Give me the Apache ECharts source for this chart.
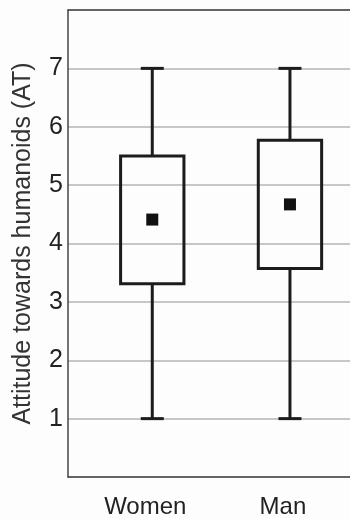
<!DOCTYPE html>
<html>
<head>
<meta charset="utf-8">
<style>
  html, body { margin: 0; padding: 0; background: #fdfdfd; }
  #chart { width: 350px; height: 519px; }
</style>
<script src="https://cdn.jsdelivr.net/npm/echarts@6/dist/echarts.min.js"></script>
</head>
<body>
<div id="chart"></div>
<script>
// Data
const categories = ['Women', 'Man'];
const categoryPos = [1, 2];
const whiskerLow = [1, 1];
const boxLow = [3.31, 3.57];
const boxHigh = [5.50, 5.77];
const whiskerHigh = [7, 7];
const means = [4.41, 4.67];
const yTicks = [1, 2, 3, 4, 5, 6, 7];

const boxData = categoryPos.map((x, i) => [x, whiskerLow[i], boxLow[i], boxHigh[i], whiskerHigh[i]]);
const meanData = categoryPos.map((x, i) => [x, means[i]]);

const chart = echarts.init(document.getElementById('chart'), null, { renderer: 'canvas' });
const ink = '#1c1c1c';
const xMin = 0.388, xMax = 2.436;
const option = {
  backgroundColor: '#fdfdfd',
  animation: false,
  grid: { left: 68, top: 10, right: 0, bottom: 42 },
  xAxis: [{
    type: 'value', min: xMin, max: xMax,
    axisLine: { show: true, onZero: false, lineStyle: { color: '#444', width: 1.5 } },
    axisTick: { show: false },
    splitLine: { show: false },
    axisLabel: {
      customValues: categoryPos,
      formatter: v => categories[categoryPos.indexOf(Math.round(v))] || '',
      fontFamily: 'Liberation Sans', fontSize: 24, color: '#222',
      margin: 18, padding: [0, 14, 0, 0]
    }
  }, {
    type: 'value', min: xMin, max: xMax, position: 'top',
    axisLine: { show: true, onZero: false, lineStyle: { color: '#444', width: 1.5 } },
    axisTick: { show: false }, axisLabel: { show: false }, splitLine: { show: false }
  }],
  yAxis: {
    type: 'value', min: 0, max: 8, interval: 1,
    name: 'Attitude towards humanoids (AT)',
    nameLocation: 'middle', nameGap: 32, nameRotate: 90,
    nameTextStyle: { fontFamily: 'Liberation Sans', fontSize: 25, color: '#333' },
    axisLine: { show: true, lineStyle: { color: '#444', width: 1.5 } },
    axisTick: { show: false },
    axisLabel: {
      fontFamily: 'Liberation Sans', fontSize: 25, color: '#222', margin: 5,
      padding: [5, 0, 0, 0],
      formatter: v => yTicks.indexOf(v) >= 0 ? String(v) : ''
    },
    splitLine: { show: true, lineStyle: { color: '#b4b4b4', width: 1.5 } }
  },
  series: [{
    type: 'custom',
    data: boxData,
    encode: { x: 0, y: [1, 2, 3, 4] },
    renderItem: (params, api) => {
      const x = api.value(0);
      const pLo = api.coord([x, api.value(1)]);
      const pQ1 = api.coord([x, api.value(2)]);
      const pQ3 = api.coord([x, api.value(3)]);
      const pHi = api.coord([x, api.value(4)]);
      const boxW = api.size([0.46, 0])[0];
      const capW = api.size([0.167, 0])[0];
      const cx = pLo[0];
      const ls = { stroke: ink, lineWidth: 3, fill: null };
      return {
        type: 'group',
        children: [
          { type: 'rect', shape: { x: cx - boxW / 2, y: pQ3[1], width: boxW, height: pQ1[1] - pQ3[1] }, style: { stroke: ink, lineWidth: 3, fill: 'rgba(0,0,0,0)' } },
          { type: 'line', shape: { x1: cx, y1: pHi[1], x2: cx, y2: pQ3[1] }, style: ls },
          { type: 'line', shape: { x1: cx, y1: pQ1[1], x2: cx, y2: pLo[1] }, style: ls },
          { type: 'line', shape: { x1: cx - capW / 2, y1: pHi[1], x2: cx + capW / 2, y2: pHi[1] }, style: ls },
          { type: 'line', shape: { x1: cx - capW / 2, y1: pLo[1], x2: cx + capW / 2, y2: pLo[1] }, style: ls }
        ]
      };
    }
  }, {
    type: 'scatter',
    data: meanData,
    symbol: 'rect',
    symbolSize: 12,
    itemStyle: { color: '#111', opacity: 1 }
  }]
};
chart.setOption(option);
</script>
</body>
</html>
